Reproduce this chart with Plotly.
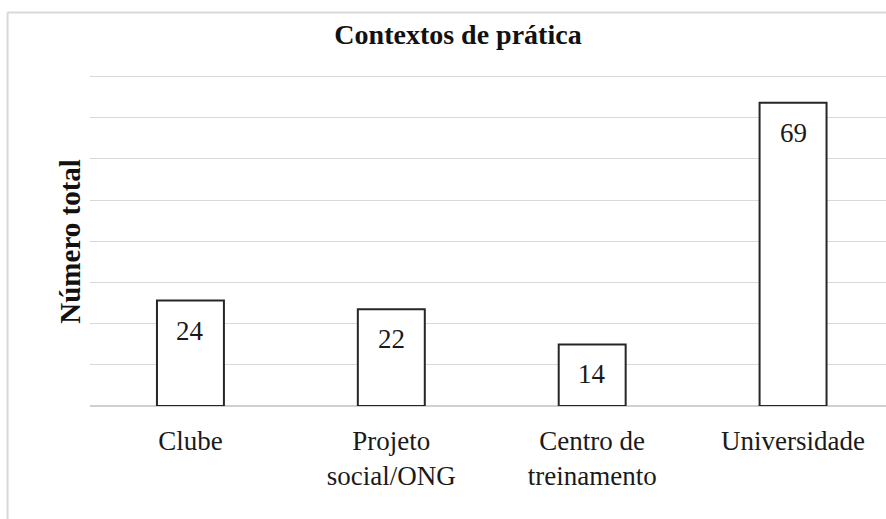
import plotly.graph_objects as go

categories = ["Clube", "Projeto<br>social/ONG", "Centro de<br>treinamento", "Universidade"]
values = [24, 22, 14, 69]
value_labels = ["24", "22", "14", "69"]
title_text = "Contextos de prática"
y_title = "Número total"

FONT = "Liberation Serif, Times New Roman, serif"

W, H = 886, 519
Y_TOP = 76.0          # gridline max, shown slightly below top edge
px_per_unit = (405.7 - 76.0) / 75.0
L, R, B = 89.5, 0, 113.3
T = 76.0 - (Y_TOP - 75.0) * px_per_unit
pw = W - L - R
ph = H - T - B
cat_px = 201.0
x_max = -0.5 + pw / cat_px

fig = go.Figure()
fig.add_trace(go.Bar(
    x=list(range(len(categories))),
    y=values,
    width=1/3,
    marker=dict(color="white", line=dict(color="#262626", width=2)),
    hoverinfo="skip",
))

for i, (v, lab) in enumerate(zip(values, value_labels)):
    fig.add_annotation(x=i, y=v, text=lab, showarrow=False, xref="x", yref="y",
                       yanchor="middle", yshift=-30,
                       font=dict(family=FONT, size=27, color="#1a1a1a"))

# y-axis title (centered on the gridded area)
fig.add_annotation(x=(70 - L) / pw, y=(75.0 / 2) / Y_TOP, xref="paper", yref="paper",
                   text="<b>" + y_title + "</b>", textangle=-90, showarrow=False,
                   xanchor="center", yanchor="middle",
                   font=dict(family=FONT, size=29, color="#111"))

# frame (top and left borders)
fx = (7 - L) / pw
fy = 1 + (T - 12) / ph
fig.add_shape(type="line", xref="paper", yref="paper", x0=fx, x1=1.2, y0=fy, y1=fy,
              line=dict(color="#d9d9d9", width=2))
fig.add_shape(type="line", xref="paper", yref="paper", x0=fx, x1=fx, y0=fy, y1=-1,
              line=dict(color="#d9d9d9", width=2))

fig.update_layout(
    width=W, height=H,
    margin=dict(l=L, r=R, t=T, b=B, pad=0),
    paper_bgcolor="white", plot_bgcolor="white",
    showlegend=False,
    title=dict(text="<b>" + title_text + "</b>", x=458 / W, xanchor="center",
               y=1 - 34 / H, yanchor="middle",
               font=dict(family=FONT, size=28, color="#111")),
    xaxis=dict(
        tickmode="array",
        tickvals=list(range(len(categories))),
        ticktext=categories,
        range=[-0.5, x_max],
        showgrid=False, zeroline=False, showline=False,
        ticks="", ticklabelstandoff=16,
        tickfont=dict(family=FONT, size=27, color="#1a1a1a"),
        fixedrange=True,
    ),
    yaxis=dict(
        range=[0, Y_TOP], dtick=75 / 8, tick0=0,
        showticklabels=False, ticks="",
        showgrid=True, gridcolor="#d9d9d9", gridwidth=1.3,
        zeroline=True, zerolinecolor="#d0d0d0", zerolinewidth=1.6,
        showline=False, fixedrange=True,
    ),
)

fig.write_html("out.html", config={"displayModeBar": False},
               post_script="document.body.style.margin='0';document.body.style.overflow='hidden';")
